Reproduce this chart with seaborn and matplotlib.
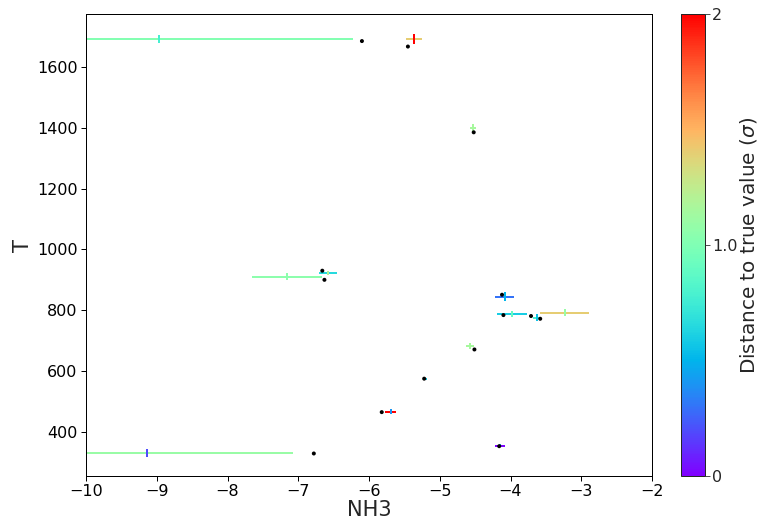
import matplotlib
matplotlib.use("Agg")
import matplotlib.pyplot as plt
import seaborn as sns
import numpy as np
import pandas as pd
from matplotlib.colors import Normalize
from matplotlib.cm import ScalarMappable

# Retrieved values (NH3 abundance and temperature) with uncertainties
x_ret = [-8.97, -5.36, -4.53, -7.16, -6.58, -4.08, -3.98, -3.63, -3.23, -4.57, -5.20, -5.69, -4.15, -9.14]
x_err = [2.74, 0.11, 0.042, 0.49, 0.125, 0.135, 0.21, 0.057, 0.346, 0.057, 0.02, 0.078, 0.071, 2.06]
T_ret = [1692, 1693, 1400, 910, 924, 845, 789, 776, 792, 681, 573, 467, 355, 332]
T_err = [13, 16, 13, 11.5, 6.5, 16, 10, 11, 12, 10, 4, 7.5, 6, 13]
# Distance to true value (sigma) for each axis
x_sigma = [1.02, 1.4, 1.15, 1.05, 0.65, 0.3, 0.6, 0.8, 1.4, 1.15, 0.6, 2.0, 0.02, 1.1]
T_sigma = [0.78, 2.0, 1.15, 1.05, 1.2, 0.5, 0.9, 0.55, 1.1, 1.15, 0.6, 0.4, 0.4, 0.2]
# True values
x_true = [-6.10, -5.45, -4.52, -6.66, -6.63, -4.12, -4.10, -3.71, -3.58, -4.51, -5.22, -5.82, -4.16, -6.78]
T_true = [1685, 1667, 1385, 930, 900, 851, 784, 781, 772, 671, 575, 465, 353, 329]

sns.set_style("ticks")
plt.rcParams['font.family'] = ['DejaVu Sans']

W, H = 759, 527
fig = plt.figure(figsize=(W / 72, H / 72), dpi=72)
ax = fig.add_axes([86 / W, 1 - 476 / H, (652 - 86) / W, (476 - 14) / H])
cax = fig.add_axes([681 / W, 1 - 476 / H, 24 / W, (476 - 14) / H])

cmap = plt.get_cmap("rainbow")
norm = Normalize(vmin=0, vmax=2)

for i in range(len(x_ret)):
    ax.errorbar(x_ret[i], T_ret[i], xerr=x_err[i], fmt='none',
                ecolor=cmap(norm(x_sigma[i])), elinewidth=2, capsize=0, zorder=2)
    ax.errorbar(x_ret[i], T_ret[i], yerr=T_err[i], fmt='none',
                ecolor=cmap(norm(T_sigma[i])), elinewidth=2, capsize=0, zorder=3)

df_true = pd.DataFrame({"NH3": x_true, "T": T_true})
sns.scatterplot(data=df_true, x="NH3", y="T", ax=ax, color="black", s=16,
                edgecolor="none", zorder=4)

ax.set_xlim(-10, -2)
ax.set_ylim(255, 1774)
ax.set_xlabel("NH3", fontsize=21, labelpad=1)
ax.set_ylabel("T", fontsize=21)
ax.tick_params(labelsize=16, length=5, width=1, colors="black")
for s in ax.spines.values():
    s.set_visible(True)
    s.set_color("black")
    s.set_linewidth(1)

sm = ScalarMappable(norm=norm, cmap=cmap)
cb = fig.colorbar(sm, cax=cax)
cb.set_ticks([0, 1, 2])
cb.set_ticklabels(["0", "1.0", "2"])
cb.ax.tick_params(labelsize=16, length=5, pad=2)
cb.set_label(r"Distance to true value ($\sigma$)", fontsize=20, labelpad=0)
cb.outline.set_linewidth(1)

fig.savefig("out.png", dpi=72)
